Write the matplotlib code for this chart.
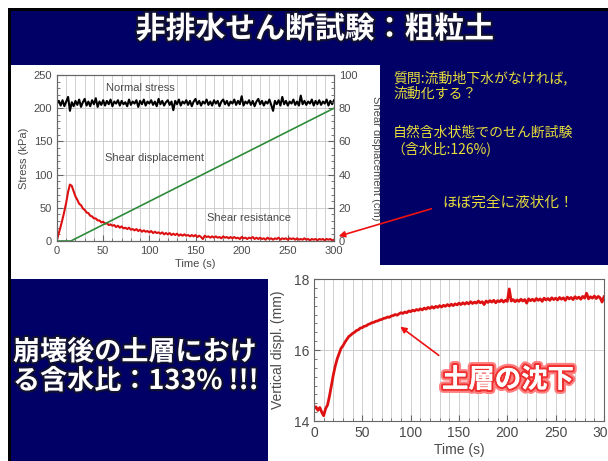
import matplotlib
matplotlib.use("Agg")
import matplotlib.pyplot as plt
import matplotlib.patheffects as pe
from matplotlib.patches import Rectangle
from matplotlib.ticker import MultipleLocator
import numpy as np

W, H = 608, 461

# ---- data ----
# top chart: normal stress (kPa), every 2 s from 0 to 300 s
normal_stress = [207, 211, 204, 212, 203, 210, 217, 196, 209, 203, 211, 205, 213, 202, 209, 214,
                 204, 210, 203, 212, 206, 215, 202, 210, 205, 212, 204, 211, 206, 213, 203, 210,
                 207, 212, 204, 211, 206, 209, 203, 213, 205, 210, 207, 212, 202, 211, 206, 213,
                 204, 210, 207, 212, 205, 210, 203, 214, 206, 211, 204, 209, 212, 205, 210, 197,
                 211, 206, 213, 204, 210, 207, 212, 205, 211, 203, 210, 214, 206, 211, 204, 210,
                 207, 213, 205, 210, 204, 212, 207, 211, 203, 210, 213, 206, 211, 204, 210, 207,
                 213, 205, 211, 206, 218, 204, 210, 207, 212, 205, 211, 203, 210, 214, 206, 211,
                 204, 210, 207, 213, 205, 196, 211, 206, 212, 204, 217, 206, 211, 204, 210, 207,
                 213, 205, 210, 204, 219, 206, 211, 205, 210, 207, 213, 204, 211, 206, 212, 205,
                 210, 207, 213, 204, 211, 206, 212]
# top chart: shear resistance (kPa), every 2 s
shear_resistance = [2, 12, 22, 33, 45, 58, 74, 85, 83, 75, 67, 62, 56, 54, 49, 47, 43, 42, 38, 37,
                    34, 34, 31, 31, 28, 29, 26, 27, 24, 25, 23, 24, 21, 23, 20, 22, 19, 20, 18, 20,
                    17, 18, 16, 18, 15, 17, 14, 16, 14, 15, 13, 15, 12, 14, 12, 13, 11, 13, 10, 12,
                    10, 12, 9, 11, 9, 11, 8, 10, 8, 10, 8, 9, 7, 9, 7, 9, 6, 8, 6, 3,
                    8, 6, 7, 5, 7, 5, 7, 5, 6, 4, 7, 5, 6, 4, 6, 4, 6, 4, 5, 3,
                    6, 4, 5, 3, 5, 4, 6, 3, 5, 3, 5, 3, 4, 2, 5, 3, 4, 2, 4, 3,
                    5, 2, 4, 3, 4, 2, 4, 3, 4, 2, 4, 2, 3, 2, 4, 2, 3, 1, 3, 2,
                    3, 1, 3, 2, 3, 1, 3, 2, 3, 1, 2]
# top chart: shear displacement (cm)
disp_time = [0, 15, 300]
shear_disp = [0, 0, 80]
# bottom chart: vertical displacement (mm), every 2 s
vert_displ = [14.35, 14.40, 14.30, 14.38, 14.25, 14.15, 14.35, 14.45, 14.70, 15.00, 15.30, 15.55,
              15.75, 15.90, 16.05, 16.12, 16.22, 16.30, 16.38, 16.42, 16.47, 16.50, 16.55, 16.57,
              16.62, 16.63, 16.67, 16.68, 16.72, 16.74, 16.77, 16.78, 16.81, 16.82, 16.85, 16.86,
              16.89, 16.90, 16.93, 16.92, 16.96, 16.97, 17.00, 16.98, 17.02, 17.05, 17.03, 17.07,
              17.05, 17.10, 17.08, 17.12, 17.10, 17.14, 17.12, 17.16, 17.13, 17.18, 17.15, 17.20,
              17.17, 17.22, 17.18, 17.23, 17.20, 17.25, 17.21, 17.26, 17.23, 17.28, 17.24, 17.29,
              17.25, 17.30, 17.27, 17.32, 17.28, 17.33, 17.29, 17.34, 17.30, 17.36, 17.31, 17.35,
              17.32, 17.38, 17.33, 17.36, 17.28, 17.38, 17.34, 17.39, 17.35, 17.40, 17.33, 17.39,
              17.36, 17.41, 17.35, 17.40, 17.37, 17.72, 17.38, 17.42, 17.36, 17.41, 17.37, 17.43,
              17.38, 17.42, 17.32, 17.44, 17.39, 17.43, 17.38, 17.45, 17.40, 17.44, 17.37, 17.46,
              17.41, 17.45, 17.40, 17.47, 17.42, 17.46, 17.41, 17.48, 17.43, 17.47, 17.40, 17.49,
              17.44, 17.48, 17.42, 17.50, 17.45, 17.49, 17.43, 17.51, 17.46, 17.60, 17.44, 17.50,
              17.46, 17.52, 17.45, 17.51, 17.47, 17.35, 17.50]

t_ns = np.linspace(0, 300, len(normal_stress))
t_sr = np.linspace(0, 300, len(shear_resistance))
t_vd = np.linspace(0, 300, len(vert_displ))

NAVY = '#000066'
YELLOW = '#E6DC3C'
GRID = '#c8c8c8'
TXT = '#4a4a4a'
CJK = ['Noto Sans CJK JP', 'DejaVu Sans']
LAT = 'Liberation Sans'


def box(x0, y0, x1, y1):
    # pixel box (top-left origin) -> figure fraction rect
    return [x0 / W, 1 - y1 / H, (x1 - x0) / W, (y1 - y0) / H]


fig = plt.figure(figsize=(W / 100, H / 100), dpi=100, facecolor='white')

# background layer
bg = fig.add_axes([0, 0, 1, 1], zorder=0)
bg.set_xlim(0, W)
bg.set_ylim(H, 0)
bg.axis('off')
bg.add_patch(Rectangle((8, 8), W - 8, H - 8, color='black', lw=0))
bg.add_patch(Rectangle((11, 11), W - 11, H - 11, color=NAVY, lw=0))
bg.add_patch(Rectangle((11, 65), 369, 214, color='white', lw=0))
bg.add_patch(Rectangle((268, 265), W - 268, H - 265, color='white', lw=0))


def style(ax, fs):
    for s in ax.spines.values():
        s.set_color('#666666')
        s.set_linewidth(0.8)
    ax.tick_params(which='both', direction='in', colors='#666666', labelcolor=TXT,
                   labelsize=fs)
    ax.tick_params(which='major', length=4)
    ax.tick_params(which='minor', length=2)
    for lb in ax.get_xticklabels() + ax.get_yticklabels():
        lb.set_family(LAT)


# ---- top chart ----
ax = fig.add_axes(box(57, 75, 334, 241), zorder=2)
ax.plot(t_ns, normal_stress, color='black', lw=1.5)
ax.plot(t_sr, shear_resistance, color='#dd1111', lw=1.5)
ax.set_xlim(0, 300)
ax.set_ylim(0, 250)
ax.xaxis.set_major_locator(MultipleLocator(50))
ax.xaxis.set_minor_locator(MultipleLocator(10))
ax.yaxis.set_major_locator(MultipleLocator(50))
ax.yaxis.set_minor_locator(MultipleLocator(10))
ax.grid(True, which='major', color=GRID, lw=0.6)
ax.grid(True, which='minor', axis='x', color=GRID, lw=0.6)
ax.set_axisbelow(True)
style(ax, 8)
ax.set_xlabel('Time (s)', family=LAT, fontsize=8, color=TXT, labelpad=2)
ax.set_ylabel('Stress (kPa)', family=LAT, fontsize=8, color=TXT, labelpad=3)
ax.text(90, 230, 'Normal stress', family=LAT, fontsize=8, color=TXT, ha='center', va='center')
ax.text(106, 125, 'Shear displacement', family=LAT, fontsize=8, color=TXT, ha='center', va='center')
ax.text(208, 35, 'Shear resistance', family=LAT, fontsize=8, color=TXT, ha='center', va='center')

ax2 = ax.twinx()
ax2.plot(disp_time, shear_disp, color='#2e8b3a', lw=1.2)
ax2.set_ylim(0, 100)
ax2.yaxis.set_major_locator(MultipleLocator(20))
ax2.yaxis.set_minor_locator(MultipleLocator(4))
style(ax2, 8)
ax2.set_ylabel('Shear displacement (cm)', family=LAT, fontsize=8, color=TXT,
               rotation=270, labelpad=17)

# ---- bottom chart ----
bx = fig.add_axes(box(314, 279, 604, 421), zorder=2)
bx.plot(t_vd, vert_displ, color='#dd1111', lw=2.0)
bx.set_xlim(0, 300)
bx.set_ylim(14, 18)
bx.xaxis.set_major_locator(MultipleLocator(50))
bx.xaxis.set_minor_locator(MultipleLocator(10))
bx.yaxis.set_major_locator(MultipleLocator(2))
bx.yaxis.set_minor_locator(MultipleLocator(0.25))
bx.grid(True, which='major', color=GRID, lw=0.6)
bx.grid(True, which='minor', axis='x', color=GRID, lw=0.6)
bx.set_axisbelow(True)
style(bx, 10)
bx.set_xlabel('Time (s)', family=LAT, fontsize=10, color=TXT, labelpad=2)
bx.set_ylabel('Vertical displ. (mm)', family=LAT, fontsize=10, color=TXT, labelpad=6)

# ---- overlay texts and arrows ----
ov = fig.add_axes([0, 0, 1, 1], zorder=5)
ov.set_xlim(0, W)
ov.set_ylim(H, 0)
ov.axis('off')
ov.patch.set_alpha(0)

# the right-hand label of the top chart runs off the white panel: cover the spill in navy
ov.add_patch(Rectangle((380, 65), 20, 200, color=NAVY, lw=0))

shadow = [pe.withStroke(linewidth=3, foreground='#101030')]
ov.text(315, 29, '非排水せん断試験：粗粒土', family=CJK, fontsize=21.5, fontweight='bold',
        color='white', ha='center', va='center', path_effects=shadow)

ov.text(393, 78, '質問:流動地下水がなければ,', family=CJK, fontsize=10, color=YELLOW, va='center')
ov.text(393, 94, '流動化する？', family=CJK, fontsize=10, color=YELLOW, va='center')
ov.text(393, 133, '自然含水状態でのせん断試験', family=CJK, fontsize=10, color=YELLOW, va='center')
ov.text(391, 149, '（含水比:126%)', family=CJK, fontsize=10, color=YELLOW, va='center')
ov.text(442, 203, 'ほぼ完全に液状化！', family=CJK, fontsize=10.5, color=YELLOW, va='center')

ov.text(13, 352, '崩壊後の土層におけ', family=CJK, fontsize=19.5, fontweight='bold',
        color='white', va='center', path_effects=shadow)
ov.text(13, 381, 'る含水比：133% !!!', family=CJK, fontsize=19.5, fontweight='bold',
        color='white', va='center', path_effects=shadow)

ov.text(442, 380, '土層の沈下', family=CJK, fontsize=19, fontweight='bold', color='white',
        va='center',
        path_effects=[pe.withStroke(linewidth=6, foreground='#ff8080'),
                      pe.withStroke(linewidth=3, foreground='#ee3030'), pe.Normal()])

arrow = dict(arrowstyle='-|>', color='#ee1111', lw=1.2, mutation_scale=9)
ov.annotate('', xy=(336, 237), xytext=(434, 208), arrowprops=arrow)
ov.annotate('', xy=(398, 325), xytext=(441, 357), arrowprops=arrow)

fig.savefig('out.png', dpi=100, facecolor='white')
